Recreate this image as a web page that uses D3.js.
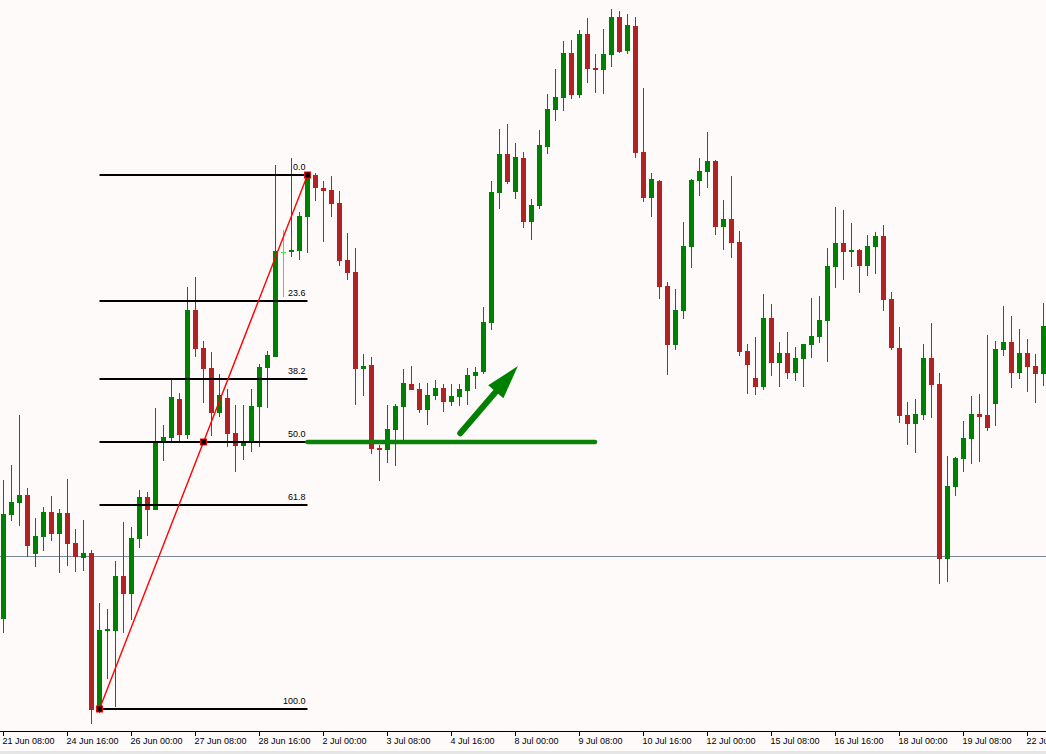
<!DOCTYPE html>
<html>
<head>
<meta charset="utf-8">
<script src="https://cdn.jsdelivr.net/npm/d3@7/dist/d3.min.js"></script>
<style>
  html, body { margin: 0; padding: 0; background: #fffafa; }
  svg { display: block; }
</style>
</head>
<body>
<svg id="chart" width="1046" height="754"></svg>
<script>
// ---- DATA (H4 candles, 21 Jun – 22 Jul) ----
const openP = [95.713, 96.753, 96.873, 96.947, 96.363, 96.533, 96.780, 96.563, 96.770, 96.470,
 96.323, 96.370, 94.807, 95.593, 95.593, 96.140, 95.963, 96.513, 96.930, 96.803,
 97.483, 97.523, 97.913, 97.550, 98.800, 98.423, 98.220, 97.773, 97.923, 97.570,
 97.443, 97.487, 97.833, 98.220, 98.333, 99.377, 99.377, 99.393, 99.733, 100.150,
 100.017, 100.000, 99.873, 99.300, 99.180, 98.207, 98.247, 97.420, 97.400, 97.600,
 97.833, 98.060, 98.010, 97.800, 97.943, 98.020, 97.883, 97.933, 97.993, 98.143,
 98.180, 98.673, 99.973, 100.360, 99.983, 100.320, 99.683, 99.843, 100.433, 100.803,
 100.923, 101.370, 100.953, 101.560, 101.220, 101.203, 101.353, 101.730, 101.390, 101.640,
 100.380, 99.923, 100.090, 99.040, 98.453, 98.793, 99.433, 100.093, 100.183, 100.290,
 99.633, 99.710, 99.480, 98.390, 98.120, 98.033, 98.720, 98.273, 98.370, 98.173,
 98.313, 98.453, 98.533, 98.693, 99.233, 99.470, 99.383, 99.400, 99.243, 99.433,
 99.540, 98.910, 98.423, 97.750, 97.663, 97.750, 98.320, 98.060, 96.313, 97.033,
 97.313, 97.513, 97.760, 97.750, 97.863, 98.403, 98.480, 98.173, 98.370, 98.240,
 98.163];
const highP = [97.100, 97.250, 97.750, 97.017, 96.717, 96.830, 96.940, 96.807, 97.110, 96.610,
 96.700, 96.400, 95.870, 95.810, 96.290, 96.680, 96.630, 97.000, 96.980, 97.820,
 97.650, 98.100, 97.967, 99.033, 99.133, 98.490, 98.383, 98.160, 98.013, 97.850,
 97.850, 98.013, 98.257, 98.390, 100.250, 99.600, 100.317, 99.783, 100.170, 100.170,
 100.090, 100.140, 99.990, 99.567, 99.420, 98.360, 98.330, 97.450, 97.850, 97.860,
 98.207, 98.240, 98.067, 98.067, 98.100, 98.060, 98.060, 98.060, 98.220, 98.233,
 98.830, 100.090, 100.607, 100.660, 100.470, 100.377, 99.907, 100.600, 100.960, 101.210,
 101.490, 101.500, 101.600, 101.720, 101.360, 101.610, 101.810, 101.790, 101.760, 101.730,
 101.017, 100.170, 100.100, 99.077, 99.010, 99.680, 100.110, 100.320, 100.580, 100.300,
 99.900, 100.140, 99.590, 98.460, 98.530, 98.960, 98.860, 98.480, 98.580, 98.430,
 98.460, 98.920, 98.940, 99.420, 99.827, 99.800, 99.670, 99.410, 99.550, 99.580,
 99.650, 98.980, 98.630, 97.880, 97.910, 98.460, 98.670, 98.170, 97.340, 97.330,
 97.690, 97.940, 97.960, 98.550, 98.490, 98.840, 98.740, 98.610, 98.510, 98.360,
 98.870];
const lowP = [95.573, 96.693, 96.643, 96.333, 96.233, 96.393, 96.493, 96.173, 96.243, 96.183,
 96.193, 94.663, 94.767, 95.113, 94.833, 95.567, 95.700, 96.417, 96.543, 96.803,
 97.293, 97.487, 97.467, 97.513, 98.327, 97.867, 97.543, 97.733, 97.427, 97.183,
 97.300, 97.383, 97.427, 97.823, 98.333, 98.933, 99.333, 99.300, 99.367, 99.893,
 99.483, 99.733, 99.243, 99.100, 97.853, 97.940, 97.360, 97.093, 97.273, 97.240,
 97.467, 98.003, 97.767, 97.650, 97.900, 97.780, 97.840, 97.840, 97.850, 98.013,
 98.157, 98.600, 99.813, 100.057, 99.910, 99.620, 99.500, 99.810, 100.360, 100.693,
 100.793, 100.913, 100.920, 101.073, 100.973, 100.960, 101.233, 101.373, 101.363, 100.323,
 99.883, 99.733, 98.907, 98.153, 98.397, 98.710, 99.223, 99.943, 100.023, 99.550,
 99.400, 99.323, 98.343, 97.960, 97.950, 98.000, 98.140, 98.033, 98.113, 98.090,
 98.033, 98.323, 98.473, 98.283, 99.023, 99.100, 99.233, 98.973, 99.140, 99.160,
 98.793, 98.403, 97.673, 97.453, 97.373, 97.703, 97.723, 96.063, 96.083, 96.943,
 97.183, 97.263, 97.283, 97.593, 97.643, 98.343, 98.023, 98.113, 97.983, 97.873,
 98.043];
const closeP = [96.760, 96.880, 96.947, 96.443, 96.540, 96.780, 96.563, 96.770, 96.463, 96.333,
 96.370, 94.800, 95.600, 95.613, 96.140, 95.963, 96.520, 96.930, 96.803, 97.477,
 97.530, 97.930, 97.550, 98.800, 98.410, 98.210, 97.773, 97.950, 97.560, 97.443,
 97.470, 97.840, 98.230, 98.350, 99.390, 99.377, 99.400, 99.740, 100.150, 100.023,
 99.993, 99.860, 99.293, 99.173, 98.207, 98.243, 97.413, 97.403, 97.607, 97.840,
 98.067, 98.003, 97.800, 97.950, 98.017, 97.883, 97.940, 98.010, 98.150, 98.180,
 98.680, 99.980, 100.360, 100.083, 100.330, 99.683, 99.850, 100.450, 100.810, 100.930,
 101.370, 100.953, 101.560, 101.213, 101.203, 101.360, 101.730, 101.380, 101.650, 100.373,
 99.923, 100.110, 99.033, 98.453, 98.800, 99.440, 100.100, 100.190, 100.290, 99.633,
 99.710, 99.473, 98.383, 98.253, 98.033, 98.720, 98.273, 98.370, 98.173, 98.320,
 98.460, 98.540, 98.700, 99.240, 99.470, 99.383, 99.400, 99.243, 99.440, 99.540,
 98.903, 98.423, 97.743, 97.663, 97.760, 98.320, 98.053, 96.313, 97.040, 97.320,
 97.520, 97.760, 97.733, 97.623, 98.410, 98.480, 98.173, 98.370, 98.233, 98.163,
 98.640];

const tickIndex = [0, 8, 16, 24, 32, 40, 48, 56, 64, 72, 80, 88, 96, 104, 112, 120, 128];
const tickLabels = ["21 Jun 08:00", "24 Jun 16:00", "26 Jun 00:00", "27 Jun 08:00", "28 Jun 16:00",
  "2 Jul 00:00", "3 Jul 08:00", "4 Jul 16:00", "8 Jul 00:00", "9 Jul 08:00", "10 Jul 16:00",
  "12 Jul 00:00", "15 Jul 08:00", "16 Jul 16:00", "18 Jul 00:00", "19 Jul 08:00", "22 Jul 00:00"];

const fibRatios = [0.0, 23.6, 38.2, 50.0, 61.8, 100.0];
const fibStart = [12, 94.810];   // [candle index, price] swing low
const fibEnd = [38, 100.150];    // swing high
const supportEndIndex = 74;
const arrowFrom = [57.1, 97.567];
const arrowTo = [64.3, 98.240];
const bidPrice = 96.34;

// ---- CHART ----
const W = 1046, H = 754, axisY = 731;
const svg = d3.select("#chart");
svg.append("rect").attr("width", W).attr("height", H).attr("fill", "#fffafa");

const x = d3.scaleLinear().domain([0, 130]).range([3, 1043]);
const y = d3.scaleLinear().domain([101.90 - 7.31, 101.90]).range([axisY, 0]);

const candles = openP.map((o, i) => ({ i, o, h: highP[i], l: lowP[i], c: closeP[i] }));
const BULL = "#008000", BEAR = "#b22222", DOJI = "#33ee33";
const col = d => d.c > d.o ? BULL : (d.c < d.o ? BEAR : DOJI);

// bid line
svg.append("line")
  .attr("x1", 0).attr("x2", W)
  .attr("y1", Math.round(y(bidPrice)) + 0.5).attr("y2", Math.round(y(bidPrice)) + 0.5)
  .attr("stroke", "#778899").attr("stroke-width", 1);

const cg = svg.append("g");
cg.selectAll("rect.wick").data(candles).join("rect")
  .attr("class", "wick")
  .attr("x", d => x(d.i))
  .attr("width", 1)
  .attr("y", d => Math.round(y(d.h)))
  .attr("height", d => Math.max(1, Math.round(y(d.l)) - Math.round(y(d.h))))
  .attr("fill", col);
cg.selectAll("rect.body").data(candles).join("rect")
  .attr("class", "body")
  .attr("x", d => x(d.i) - 2)
  .attr("width", 5)
  .attr("y", d => Math.round(y(Math.max(d.o, d.c))))
  .attr("height", d => Math.max(1, Math.round(y(Math.min(d.o, d.c))) - Math.round(y(Math.max(d.o, d.c)))))
  .attr("fill", col);

// Fibonacci retracement
const fx1 = x(fibStart[0]) + 0.5, fx2 = x(fibEnd[0]) + 0.5;
const fibLevels = fibRatios.map(r => ({ r, p: fibEnd[1] - (r / 100) * (fibEnd[1] - fibStart[1]) }));
const fg = svg.append("g");
fg.selectAll("line").data(fibLevels).join("line")
  .attr("x1", fx1).attr("x2", fx2)
  .attr("y1", d => y(d.p)).attr("y2", d => y(d.p))
  .attr("stroke", "#000").attr("stroke-width", 2);
fg.selectAll("text").data(fibLevels).join("text")
  .attr("x", fx2 - 2).attr("y", d => y(d.p) - 5)
  .attr("text-anchor", "end")
  .attr("font-family", "Liberation Sans, Arial, sans-serif")
  .attr("font-size", 9)
  .attr("fill", "#000")
  .text(d => d.r.toFixed(1));

// support line at 50%
const p50 = fibLevels.find(d => d.r === 50).p;
svg.append("line")
  .attr("x1", fx2).attr("x2", x(supportEndIndex))
  .attr("y1", y(p50)).attr("y2", y(p50))
  .attr("stroke", "#0a820a").attr("stroke-width", 4.5).attr("stroke-linecap", "round");

// trend line with anchor squares
const tA = [x(fibStart[0]) + 0.5, y(fibStart[1])];
const tB = [fx2, y(fibEnd[1])];
svg.append("line")
  .attr("x1", tA[0]).attr("y1", tA[1]).attr("x2", tB[0]).attr("y2", tB[1])
  .attr("stroke", "#ff0000").attr("stroke-width", 1.4);
const mid = [(tA[0] + tB[0]) / 2, (tA[1] + tB[1]) / 2];
svg.selectAll("rect.anchor").data([tA, mid, tB]).join("rect")
  .attr("class", "anchor")
  .attr("x", d => d[0] - 3).attr("y", d => d[1] - 3)
  .attr("width", 6).attr("height", 6)
  .attr("fill", "#000").attr("stroke", "#ff0000").attr("stroke-width", 1);

// arrow
const T = [x(arrowFrom[0]) + 0.5, y(arrowFrom[1])];
const P = [x(arrowTo[0]) + 0.5, y(arrowTo[1])];
const dx = P[0] - T[0], dy = P[1] - T[1], len = Math.hypot(dx, dy);
const ux = dx / len, uy = dy / len, nx = -uy, ny = ux;
const headLen = 34, headHalf = 10;
const B = [P[0] - ux * headLen, P[1] - uy * headLen];
svg.append("line")
  .attr("x1", T[0]).attr("y1", T[1]).attr("x2", B[0] + ux * 4).attr("y2", B[1] + uy * 4)
  .attr("stroke", "#008000").attr("stroke-width", 6).attr("stroke-linecap", "round");
svg.append("path")
  .attr("d", `M${P[0]},${P[1]}L${B[0] + nx * headHalf},${B[1] + ny * headHalf}L${B[0] - nx * headHalf},${B[1] - ny * headHalf}Z`)
  .attr("fill", "#008000");

// x axis
svg.append("line").attr("x1", 0).attr("x2", W)
  .attr("y1", axisY + 0.5).attr("y2", axisY + 0.5).attr("stroke", "#000");
const axis = d3.axisBottom(x).tickValues(tickIndex)
  .tickFormat((d, i) => tickLabels[i]).tickSize(5).tickSizeOuter(0);
const ag = svg.append("g").attr("transform", `translate(0,${axisY})`).call(axis);
ag.select(".domain").remove();
ag.selectAll(".tick line").attr("stroke", "#000");
ag.selectAll(".tick text")
  .attr("text-anchor", "start").attr("x", -1).attr("y", 13).attr("dy", 0)
  .attr("font-family", "Liberation Sans, Arial, sans-serif").attr("font-size", 9).attr("fill", "#000");

// bottom frame strip
svg.append("rect").attr("x", 0).attr("y", 751).attr("width", W).attr("height", 3).attr("fill", "#e6e6e6");
</script>
</body>
</html>
